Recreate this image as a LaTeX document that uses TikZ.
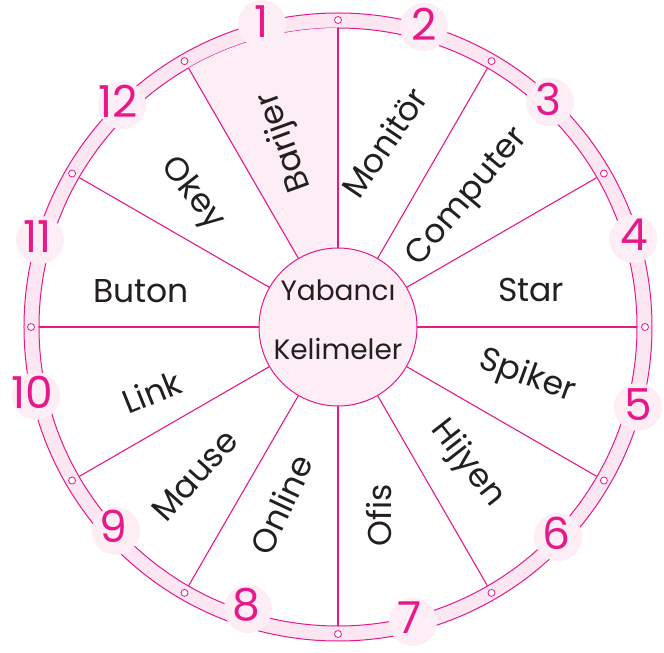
\documentclass[tikz,border=0pt]{standalone}
\usepackage{fontspec}
\setmainfont{Poppins}
\definecolor{mag}{HTML}{E6198A}
\definecolor{ringfill}{HTML}{FCE6F1}
\definecolor{palepink}{HTML}{FDEEF5}
\definecolor{ink}{HTML}{231F20}
\begin{document}
\begin{tikzpicture}[x=1pt,y=1pt,
  word/.style={font=\fontsize{33}{38}\selectfont, text=ink, inner sep=0pt, text height=23pt, text depth=0pt},
  hubword/.style={font=\fontsize{28}{32}\selectfont, text=ink, inner sep=0pt, text height=20pt, text depth=0pt},
  num/.style={font=\fontsize{44}{50}\selectfont, text=mag, inner sep=0pt, text height=31pt, text depth=0pt},
  numdisc/.style={circle, fill=palepink, minimum size=48pt, inner sep=0pt},
  spoke/.style={draw=mag, line width=1.1pt},
  ringline/.style={draw=mag, line width=1pt},
  dot/.style={draw=mag, fill=white, line width=0.8pt}
  ]
\useasboundingbox (-338,-326) rectangle (326,327);
% ring
\fill[ringfill, even odd rule] (0,0) circle (314) (0,0) circle (299);
\draw[ringline] (0,0) circle (314);
\draw[ringline] (0,0) circle (299);
% highlighted sector
\fill[palepink] (90:79) -- (90:299) arc (90:120:299) -- (120:79) arc (120:90:79) -- cycle;
% spokes and dots
\foreach \a in {0,30,...,330} {
  \draw[spoke] (\a:79) -- (\a:299);
  \draw[dot] (\a:307) circle (3.5);
}
% centre
\node[circle, draw=mag, fill=palepink, line width=1pt, minimum size=158pt, inner sep=0pt] (hub) at (0,0) {};
\node[hubword] (yab) at (0,36) {Yabancı};
\node[hubword] (kel) at (0,-23) {Kelimeler};
% number discs
\foreach \x/\y [count=\i] in {-76/303, 86/300, 212/225, 295/88, 300/-80, 220/-210, 75/-295, -90/-282, -222/-204, -302/-69, -298/87, -216/222} {
  \node[numdisc] (disc\i) at (\x,\y) {};
}
\node[num] (n1) at (-76,305) {1};
\node[num] (n2) at (86,302) {2};
\node[num] (n3) at (210,227) {3};
\node[num] (n4) at (296,92) {4};
\node[num] (n5) at (300,-78) {5};
\node[num] (n6) at (218,-207) {6};
\node[num] (n7) at (72,-291) {7};
\node[num] (n8) at (-92,-278) {8};
\node[num] (n9) at (-225,-200) {9};
\node[num] (n10) at (-306,-66) {10};
\node[num] (n11) at (-300,90) {11};
\node[num] (n12) at (-220,225) {12};
% words
\node[word, rotate=110] (w1) at (-56,184) {Barijer};
\node[word, rotate=56] (w2) at (47,184) {Monitör};
\node[word, rotate=50] (w3) at (127,132) {Computer};
\node[word] (w4) at (193,37) {Star};
\node[word, rotate=-20] (w5) at (190,-47) {Spiker};
\node[word, rotate=-52] (w6) at (132,-135) {Hijyen};
\node[word, rotate=90] (w7) at (42,-188) {Ofis};
\node[word, rotate=65] (w8) at (-56,-178) {Online};
\node[word, rotate=48] (w9) at (-143,-148) {Mause};
\node[word, rotate=22] (w10) at (-186,-66) {Link};
\node[word] (w11) at (-197,36) {Buton};
\node[word, rotate=-52] (w12) at (-143,135) {Okey};
\end{tikzpicture}
\end{document}
